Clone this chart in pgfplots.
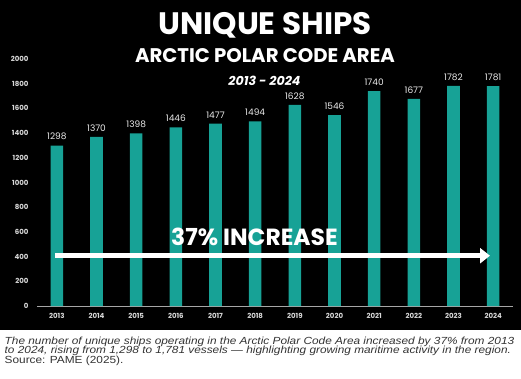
\documentclass[border=0pt]{standalone}
\usepackage{pgfplots}
\pgfplotsset{compat=1.18}
\usepackage{fontspec}
\setmainfont{Poppins}
\newfontfamily\capfont[FakeStretch=1.15]{Liberation Sans}
\usetikzlibrary{arrows.meta}
\definecolor{barteal}{HTML}{17A296}
\definecolor{tickgray}{HTML}{D8D8D8}
\definecolor{captext}{HTML}{333333}
\begin{document}
\begin{tikzpicture}[x=1pt,y=1pt]
\fill[black] (0,0) rectangle (521,-330);
\fill[white] (0,-330) rectangle (521,-379);
\useasboundingbox (0,0) rectangle (521,-379);
\node[anchor=base, text=white, font=\fontsize{31}{34}\selectfont\bfseries, inner sep=0] at (265,-35) {UNIQUE SHIPS};
\node[anchor=base, text=white, font=\fontsize{19.7}{22}\selectfont\bfseries, inner sep=0] at (265,-63) {ARCTIC POLAR CODE AREA};
\node[anchor=base, text=white, font=\fontsize{12.6}{14}\selectfont\bfseries\itshape, inner sep=0] at (264.5,-86) {2013 - 2024};
\begin{axis}[
  at={(37pt,-306pt)}, anchor=south west,
  scale only axis, width=476pt, height=247pt,
  xmin=-0.5, xmax=11.5, ymin=0, ymax=2000,
  ybar, bar width=12.6pt,
  axis x line*=bottom, axis y line*=left,
  y axis line style={draw=none},
  x axis line style={draw=gray!70, line width=0.7pt, -},
  major tick length=0pt,
  xtick={0,...,11},
  xticklabels={2013,2014,2015,2016,2017,2018,2019,2020,2021,2022,2023,2024},
  ytick={0,200,...,2000},
  /pgf/number format/assume math mode=true,
  /pgf/number format/1000 sep={},
  ticklabel style={font=\fontsize{7}{8}\selectfont\bfseries, text=tickgray},
  yticklabel style={xshift=-5pt},
  xticklabel style={yshift=-4pt},
  nodes near coords,
  nodes near coords style={font=\fontsize{9}{10}\selectfont, text=white!92!black, yshift=2pt},
  clip=false,
]
\addplot[fill=barteal, draw=none] coordinates {
(0,1298) (1,1370) (2,1398) (3,1446) (4,1477) (5,1494)
(6,1628) (7,1546) (8,1740) (9,1677) (10,1782) (11,1781)};
\end{axis}
\draw[white, line width=4.5pt, -{Triangle[length=10pt,width=15pt]}] (55,-255.7) -- (490,-255.7);
\node[anchor=base, text=white, font=\fontsize{23.4}{25}\selectfont\bfseries, inner sep=0] at (254.5,-245) {37\% INCREASE};
\node[anchor=base west, text=captext, font=\capfont\fontsize{10.3}{11}\selectfont, inner sep=0] at (4.5,-344) {\itshape The number of unique ships operating in the Arctic Polar Code Area increased by 37\% from 2013};
\node[anchor=base west, text=captext, font=\capfont\fontsize{10.3}{11}\selectfont, inner sep=0] at (4.5,-353.8) {\itshape to 2024, rising from 1,298 to 1,781 vessels — highlighting growing maritime activity in the region.};
\node[anchor=base west, text=captext, font=\capfont\fontsize{10.3}{11}\selectfont, inner sep=0] at (4.5,-363.4) {Source: PAME (2025).};
\end{tikzpicture}
\end{document}
